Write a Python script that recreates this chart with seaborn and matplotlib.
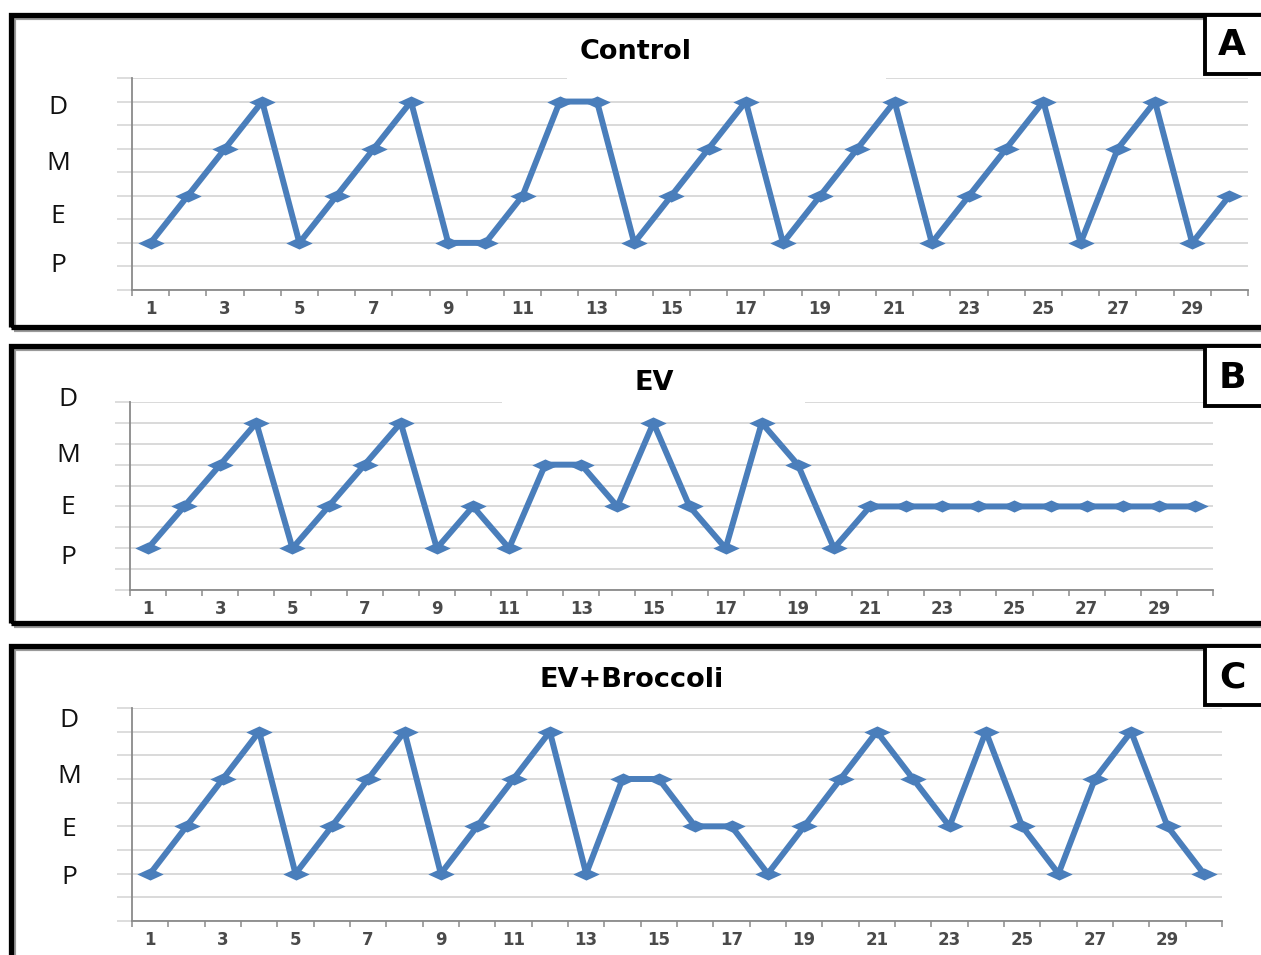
import matplotlib
matplotlib.use("Agg")
import matplotlib.pyplot as plt
import seaborn as sns
import pandas as pd
import numpy as np
from matplotlib.patches import Rectangle

# ---------------- data ----------------
days = list(range(1, 31))
stage_order = ["P", "E", "M", "D"]          # plotted at 1..4
control = ["P", "E", "M", "D", "P", "E", "M", "D", "P", "P",
           "E", "D", "D", "P", "E", "M", "D", "P", "E", "M",
           "D", "P", "E", "M", "D", "P", "M", "D", "P", "E"]
ev = ["P", "E", "M", "D", "P", "E", "M", "D", "P", "E",
      "P", "M", "M", "E", "D", "E", "P", "D", "M", "P",
      "E", "E", "E", "E", "E", "E", "E", "E", "E", "E"]
ev_broccoli = ["P", "E", "M", "D", "P", "E", "M", "D", "P", "E",
               "M", "D", "P", "M", "M", "E", "E", "P", "E", "M",
               "D", "M", "E", "D", "E", "P", "M", "D", "E", "P"]
panel_titles = ["Control", "EV", "EV+Broccoli"]
panel_letters = ["A", "B", "C"]
x_tick_labels = [str(d) for d in range(1, 30, 2)]

# ---------------- layout (pixels) ----------------
W, H = 1261, 955
fig = plt.figure(figsize=(W / 100, H / 100), dpi=100)
sns.set_style("white")
plt.rcParams["font.family"] = ["DejaVu Sans"]


def fx(x):
    return x / W


def fy(y):
    return 1 - y / H


LINE = "#4a7ebb"
GRID = "#d3d3d3"
AXC = "#8a8a8a"

panels = [
    dict(series=control, ax=(132, 78, 1248, 290),
         frame=(11, 15, 1275, 327), box=(1205, 15, 1275, 74),
         letter_xy=(1232, 45), title_xy=(636, 52), gap=(567, 886),
         ylab_x=58, ylab_y=[266, 216, 163, 108]),
    dict(series=ev, ax=(130, 402, 1213, 590),
         frame=(11, 346, 1275, 623), box=(1205, 346, 1275, 406),
         letter_xy=(1232, 378), title_xy=(654, 383), gap=(502, 805),
         ylab_x=68, ylab_y=[557, 508, 455, 400]),
    dict(series=ev_broccoli, ax=(132, 708, 1222, 921),
         frame=(11, 646, 1275, 990), box=(1205, 646, 1275, 705),
         letter_xy=(1232, 677), title_xy=(632, 680), gap=None,
         ylab_x=69, ylab_y=[877, 829, 776, 720]),
]

diamond = [(-1, 0), (0, 0.46), (1, 0), (0, -0.46), (-1, 0)]

for i, p in enumerate(panels):
    l, t, r, b = p["ax"]
    ax = fig.add_axes([fx(l), fy(b), fx(r - l), (b - t) / H])
    df = pd.DataFrame({"day": days,
                       "stage": [stage_order.index(s) + 1 for s in p["series"]]})
    sns.lineplot(data=df, x="day", y="stage", ax=ax, color=LINE,
                 linewidth=4.3, marker=diamond, markersize=19,
                 markeredgewidth=0, markerfacecolor=LINE, zorder=3)
    ax.set_xlim(0.5, 30.5)
    ax.set_ylim(0, 4.5)
    ax.set_xlabel("")
    ax.set_ylabel("")
    # y grid + outside tick extension
    ax.set_yticks(np.arange(0, 4.51, 0.5))
    ax.set_yticklabels([])
    ax.tick_params(axis="y", which="major", length=11, width=1.1,
                   color=GRID, direction="out", left=True)
    ax.yaxis.grid(True, color=GRID, linewidth=1.2, zorder=0)
    ax.xaxis.grid(False)
    # x ticks at boundaries, labels at odd days
    ax.set_xticks(np.arange(0.5, 30.6, 1))
    ax.set_xticklabels([])
    ax.set_xticks(list(range(1, 30, 2)), minor=True)
    ax.set_xticklabels(x_tick_labels, minor=True, fontsize=12,
                       fontweight="bold", color="#4a4a4a")
    ax.tick_params(axis="x", which="major", length=4, width=1.1,
                   color=AXC, direction="out", bottom=True)
    ax.tick_params(axis="x", which="minor", length=0, pad=7)
    for s in ["top", "right"]:
        ax.spines[s].set_visible(False)
    for s in ["left", "bottom"]:
        ax.spines[s].set_color(AXC)
        ax.spines[s].set_linewidth(1.3)
    ax.set_facecolor("white")

    # white gap in the top gridline behind the title
    if p["gap"] is not None:
        g0, g1 = p["gap"]
        fig.add_artist(Rectangle((fx(g0), fy(t + 3)), fx(g1 - g0), 6 / H,
                                 transform=fig.transFigure, facecolor="white",
                                 edgecolor="none", zorder=5))

    # title
    fig.text(fx(p["title_xy"][0]), fy(p["title_xy"][1]), panel_titles[i],
             ha="center", va="center", fontsize=19.5, fontweight="bold",
             color="black", zorder=6)

    # stage letters on the left
    for lab, yy in zip(stage_order, p["ylab_y"]):
        fig.text(fx(p["ylab_x"]), fy(yy), lab, ha="center", va="center",
                 fontsize=19, family="Open Sans", color="#111111")

    # outer frame (with soft grey shadow)
    x0, y0, x1, y1 = p["frame"]
    fig.add_artist(Rectangle((fx(x0 + 3), fy(y1 + 3)), fx(x1 - x0), (y1 - y0) / H,
                             transform=fig.transFigure, facecolor="none",
                             edgecolor="#9a9a9a", linewidth=3.0, zorder=6.5))
    fig.add_artist(Rectangle((fx(x0), fy(y1)), fx(x1 - x0), (y1 - y0) / H,
                             transform=fig.transFigure, facecolor="none",
                             edgecolor="black", linewidth=3.8, zorder=7))
    # letter box
    bx0, by0, bx1, by1 = p["box"]
    fig.add_artist(Rectangle((fx(bx0), fy(by1)), fx(bx1 - bx0), (by1 - by0) / H,
                             transform=fig.transFigure, facecolor="white",
                             edgecolor="black", linewidth=2.8, zorder=8))
    fig.text(fx(p["letter_xy"][0]), fy(p["letter_xy"][1]), panel_letters[i],
             ha="center", va="center", fontsize=26, fontweight="heavy",
             color="black", zorder=9)

fig.savefig("out.png", dpi=100, facecolor="white")
